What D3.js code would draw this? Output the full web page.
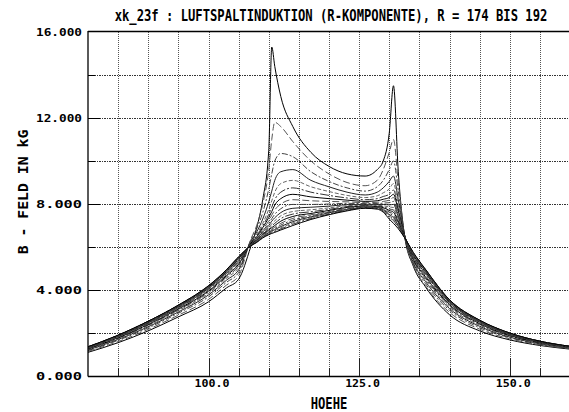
<!DOCTYPE html>
<html>
<head>
<meta charset="utf-8">
<script src="https://cdn.jsdelivr.net/npm/d3@7"></script>
<style>
  html, body { margin: 0; padding: 0; background: #fff; }
  svg { display: block; }
</style>
</head>
<body>
<svg id="chart" width="569" height="412"></svg>
<script>
// Axial position (HOEHE) at which each radius curve is sampled
const hoehe = [80, 85, 90, 95, 100, 103, 105, 107, 108, 109, 110, 110.5, 111, 112, 114,
               117, 120, 123, 126, 128, 129, 130, 130.7, 131.5, 132.5, 134, 136,
               140, 145, 150, 155, 160];

// Radial air-gap induction B (kG), one array per radius R
const b192 = [1.10, 1.55, 2.10, 2.75, 3.45, 4.10, 4.50, 6.00, 6.90, 8.20, 10.50, 15.30, 14.40, 13.00, 11.60, 10.40, 9.75, 9.40, 9.30, 9.60, 10.00, 11.30, 13.50, 9.50, 6.60, 5.10, 4.15, 2.85, 2.10, 1.68, 1.42, 1.25];
const b191 = [1.14, 1.60, 2.17, 2.83, 3.56, 4.23, 4.66, 6.35, 7.00, 8.00, 9.60, 11.00, 11.80, 11.60, 10.90, 10.00, 9.40, 9.00, 8.85, 9.10, 9.60, 10.40, 11.00, 9.00, 6.60, 5.15, 4.20, 2.96, 2.18, 1.73, 1.45, 1.27];
const b190 = [1.18, 1.66, 2.24, 2.92, 3.68, 4.36, 4.82, 6.30, 6.85, 7.60, 8.70, 9.40, 10.00, 10.35, 10.20, 9.50, 9.05, 8.75, 8.60, 8.80, 9.10, 9.60, 10.00, 8.60, 6.60, 5.20, 4.30, 3.06, 2.25, 1.78, 1.48, 1.29];
const b189 = [1.21, 1.70, 2.29, 2.98, 3.77, 4.46, 4.94, 6.25, 6.70, 7.30, 8.10, 8.60, 9.10, 9.50, 9.60, 9.10, 8.80, 8.55, 8.42, 8.55, 8.75, 9.05, 9.30, 8.20, 6.60, 5.27, 4.40, 3.14, 2.31, 1.81, 1.50, 1.30];
const b188 = [1.24, 1.73, 2.33, 3.04, 3.84, 4.54, 5.05, 6.22, 6.60, 7.10, 7.75, 8.15, 8.55, 8.95, 9.10, 8.80, 8.58, 8.40, 8.30, 8.38, 8.52, 8.70, 8.95, 7.95, 6.60, 5.33, 4.48, 3.21, 2.36, 1.85, 1.52, 1.32];
const b187 = [1.26, 1.76, 2.37, 3.08, 3.90, 4.61, 5.13, 6.19, 6.52, 6.98, 7.52, 7.85, 8.20, 8.55, 8.75, 8.55, 8.40, 8.28, 8.20, 8.25, 8.35, 8.45, 8.65, 7.80, 6.60, 5.38, 4.55, 3.27, 2.40, 1.87, 1.54, 1.33];
const b186 = [1.27, 1.78, 2.40, 3.12, 3.95, 4.67, 5.20, 6.17, 6.47, 6.90, 7.37, 7.65, 7.95, 8.25, 8.45, 8.33, 8.25, 8.18, 8.12, 8.15, 8.22, 8.30, 8.45, 7.68, 6.58, 5.43, 4.62, 3.32, 2.44, 1.89, 1.55, 1.34];
const b185 = [1.29, 1.81, 2.43, 3.15, 4.00, 4.72, 5.27, 6.15, 6.43, 6.82, 7.22, 7.48, 7.72, 8.00, 8.20, 8.15, 8.12, 8.10, 8.06, 8.08, 8.12, 8.18, 8.30, 7.58, 6.56, 5.47, 4.68, 3.36, 2.47, 1.91, 1.57, 1.34];
const b184 = [1.30, 1.82, 2.45, 3.18, 4.03, 4.76, 5.32, 6.13, 6.40, 6.75, 7.10, 7.32, 7.52, 7.78, 7.98, 7.98, 8.00, 8.03, 8.02, 8.02, 8.04, 8.06, 8.12, 7.48, 6.55, 5.50, 4.73, 3.40, 2.49, 1.93, 1.58, 1.35];
const b183 = [1.31, 1.84, 2.47, 3.20, 4.07, 4.80, 5.36, 6.12, 6.37, 6.70, 7.00, 7.20, 7.36, 7.60, 7.80, 7.85, 7.90, 7.97, 7.98, 7.98, 7.98, 7.96, 7.98, 7.38, 6.54, 5.54, 4.78, 3.42, 2.51, 1.94, 1.58, 1.36];
const b182 = [1.32, 1.85, 2.49, 3.22, 4.10, 4.83, 5.40, 6.11, 6.35, 6.65, 6.92, 7.08, 7.22, 7.45, 7.65, 7.73, 7.82, 7.92, 7.95, 7.94, 7.92, 7.86, 7.84, 7.30, 6.53, 5.57, 4.82, 3.45, 2.53, 1.96, 1.59, 1.36];
const b181 = [1.33, 1.86, 2.50, 3.24, 4.12, 4.86, 5.43, 6.10, 6.33, 6.60, 6.85, 6.98, 7.10, 7.32, 7.53, 7.64, 7.75, 7.88, 7.92, 7.90, 7.87, 7.77, 7.72, 7.22, 6.52, 5.60, 4.85, 3.47, 2.55, 1.96, 1.60, 1.37];
const b180 = [1.34, 1.87, 2.51, 3.26, 4.14, 4.88, 5.47, 6.09, 6.31, 6.57, 6.79, 6.90, 7.00, 7.20, 7.42, 7.56, 7.70, 7.84, 7.90, 7.87, 7.83, 7.70, 7.62, 7.15, 6.51, 5.63, 4.88, 3.49, 2.56, 1.97, 1.60, 1.37];
const b179 = [1.34, 1.88, 2.52, 3.27, 4.15, 4.90, 5.49, 6.08, 6.29, 6.53, 6.74, 6.83, 6.92, 7.10, 7.33, 7.50, 7.65, 7.80, 7.87, 7.85, 7.79, 7.63, 7.53, 7.09, 6.50, 5.65, 4.90, 3.51, 2.57, 1.98, 1.61, 1.37];
const b178 = [1.35, 1.89, 2.53, 3.28, 4.17, 4.92, 5.51, 6.07, 6.27, 6.50, 6.70, 6.78, 6.86, 7.02, 7.25, 7.45, 7.62, 7.77, 7.85, 7.83, 7.76, 7.56, 7.45, 7.04, 6.49, 5.67, 4.92, 3.52, 2.58, 1.99, 1.61, 1.37];
const b177 = [1.35, 1.89, 2.54, 3.28, 4.18, 4.93, 5.52, 6.06, 6.25, 6.48, 6.66, 6.74, 6.81, 6.95, 7.18, 7.40, 7.59, 7.75, 7.84, 7.82, 7.73, 7.50, 7.37, 6.99, 6.48, 5.69, 4.94, 3.53, 2.58, 1.99, 1.61, 1.38];
const b176 = [1.36, 1.89, 2.54, 3.29, 4.19, 4.93, 5.53, 6.06, 6.24, 6.46, 6.63, 6.70, 6.76, 6.89, 7.12, 7.36, 7.56, 7.73, 7.83, 7.80, 7.70, 7.44, 7.30, 6.94, 6.47, 5.71, 4.95, 3.54, 2.59, 1.99, 1.62, 1.38];
const b175 = [1.36, 1.90, 2.55, 3.29, 4.19, 4.94, 5.54, 6.05, 6.23, 6.44, 6.60, 6.66, 6.72, 6.84, 7.06, 7.32, 7.53, 7.71, 7.82, 7.79, 7.67, 7.38, 7.23, 6.90, 6.46, 5.73, 4.96, 3.54, 2.59, 2.00, 1.62, 1.38];
const b174 = [1.36, 1.90, 2.55, 3.30, 4.20, 4.95, 5.55, 6.05, 6.21, 6.42, 6.57, 6.63, 6.68, 6.79, 7.00, 7.28, 7.50, 7.68, 7.80, 7.76, 7.62, 7.30, 7.10, 6.85, 6.45, 5.75, 4.97, 3.55, 2.60, 2.00, 1.62, 1.38];

const radii  = [192, 191, 190, 189, 188, 187, 186, 185, 184, 183, 182, 181, 180, 179, 178, 177, 176, 175, 174];
const curves = [b192, b191, b190, b189, b188, b187, b186, b185, b184, b183, b182, b181, b180, b179, b178, b177, b176, b175, b174];

// Axis ticks and their labels
const yTickValues = [0, 2, 4, 6, 8, 10, 12, 14, 16];
const yLabelValues = [0, 4, 8, 12, 16];
const xTickValues = [85, 90, 95, 100, 105, 110, 115, 120, 125, 130, 135, 140, 145, 150, 155];
const xLabelValues = [100, 125, 150];

const titleText = "xk_23f : LUFTSPALTINDUKTION (R-KOMPONENTE), R = 174 BIS 192";
const xTitle = "HOEHE";
const yTitle = "B - FELD IN kG";

const svg = d3.select("#chart");
const plotLeft = 88, plotRight = 570, plotTop = 32, plotBottom = 376;

const x = d3.scaleLinear().domain([80, 160]).range([plotLeft, plotRight]);
const y = d3.scaleLinear().domain([0, 16]).range([plotBottom, plotTop]);

// Dotted grid
const grid = svg.append("g");
grid.selectAll("line.h")
  .data(yTickValues.filter(v => v > 0 && v < 16))
  .join("line")
  .attr("x1", plotLeft + 6).attr("x2", 569)
  .attr("y1", d => y(d) + 0.5).attr("y2", d => y(d) + 0.5)
  .attr("stroke", "#333").attr("stroke-width", 1)
  .attr("stroke-dasharray", "2,1,1,1");
grid.selectAll("line.v")
  .data(xTickValues)
  .join("line")
  .attr("x1", d => Math.round(x(d)) + 0.5).attr("x2", d => Math.round(x(d)) + 0.5)
  .attr("y1", plotTop).attr("y2", plotBottom - 6)
  .attr("stroke", "#555").attr("stroke-width", 1)
  .attr("stroke-dasharray", "1,1");

// Curves
const line = d3.line()
  .x((d, i) => x(hoehe[i]))
  .y(d => y(d))
  .curve(d3.curveMonotoneX);

const styles = [
  { stroke: "#000", dash: null },
  { stroke: "#555", dash: "7,3" },
  { stroke: "#444", dash: "6,2,2,2" },
  { stroke: "#222", dash: null },
  { stroke: "#666", dash: "4,2" },
  { stroke: "#333", dash: "9,2,2,2" }
];

svg.append("defs").append("clipPath").attr("id", "plot")
  .append("rect").attr("x", plotLeft).attr("y", plotTop)
  .attr("width", plotRight - plotLeft).attr("height", plotBottom - plotTop);

svg.append("g").attr("clip-path", "url(#plot)")
  .selectAll("path")
  .data(curves)
  .join("path")
  .attr("d", d => line(d))
  .attr("fill", "none")
  .attr("stroke", (d, i) => styles[i % styles.length].stroke)
  .attr("stroke-width", 1)
  .attr("stroke-dasharray", (d, i) => styles[i % styles.length].dash)
  .attr("data-r", (d, i) => radii[i]);

// Frame: left, bottom and top lines
const frame = svg.append("g").attr("stroke", "#000").attr("stroke-width", 1.3);
frame.append("line").attr("x1", plotLeft).attr("x2", plotLeft).attr("y1", plotTop - 1).attr("y2", plotBottom + 0.5);
frame.append("line").attr("x1", plotLeft).attr("x2", 569).attr("y1", plotBottom + 0.5).attr("y2", plotBottom + 0.5);
frame.append("line").attr("x1", plotLeft).attr("x2", 569).attr("y1", plotTop - 0.5).attr("y2", plotTop - 0.5);

// Inward ticks
svg.append("g").selectAll("line")
  .data(yTickValues.filter(v => v > 0 && v < 16))
  .join("line")
  .attr("x1", plotLeft).attr("x2", d => plotLeft + (yLabelValues.includes(d) ? 12 : 7))
  .attr("y1", d => y(d) + 0.5).attr("y2", d => y(d) + 0.5)
  .attr("stroke", "#000").attr("stroke-width", 1);
svg.append("g").selectAll("line")
  .data(xTickValues)
  .join("line")
  .attr("x1", d => Math.round(x(d)) + 0.5).attr("x2", d => Math.round(x(d)) + 0.5)
  .attr("y1", plotBottom).attr("y2", d => plotBottom - (xLabelValues.includes(d) ? 18 : 8))
  .attr("stroke", "#222").attr("stroke-width", 1);

// Tick labels
const tickFont = "'DejaVu Sans Mono', monospace";
svg.append("g").selectAll("text")
  .data(yLabelValues)
  .join("text")
  .attr("x", 82).attr("y", d => y(d) + 3.5)
  .attr("text-anchor", "end")
  .attr("font-family", tickFont).attr("font-weight", "bold").attr("font-size", 10)
  .attr("textLength", 46).attr("lengthAdjust", "spacingAndGlyphs")
  .text(d => d3.format(".3f")(d));
svg.append("g").selectAll("text")
  .data(xLabelValues)
  .join("text")
  .attr("x", d => x(d) + 3.5).attr("y", 387)
  .attr("text-anchor", "middle")
  .attr("font-family", tickFont).attr("font-weight", "bold").attr("font-size", 10)
  .attr("textLength", 35).attr("lengthAdjust", "spacingAndGlyphs")
  .text(d => d3.format(".1f")(d));

// Titles: narrow monospace glyphs stretched vertically
const titleFont = "'DejaVu Sans Mono', monospace";
svg.append("g")
  .attr("transform", "translate(331,21) scale(1,1.3)")
  .append("text")
  .attr("text-anchor", "middle")
  .attr("font-family", titleFont).attr("font-weight", "bold").attr("font-size", 12.2)
  .text(titleText);
svg.append("g")
  .attr("transform", "translate(329,409) scale(1,1.3)")
  .append("text")
  .attr("text-anchor", "middle")
  .attr("font-family", titleFont).attr("font-weight", "bold").attr("font-size", 12.2)
  .text(xTitle);
svg.append("g")
  .attr("transform", "translate(28,192) rotate(-90)")
  .append("text")
  .attr("text-anchor", "middle")
  .attr("font-family", titleFont).attr("font-weight", "bold").attr("font-size", 14.8)
  .text(yTitle);
</script>
</body>
</html>
